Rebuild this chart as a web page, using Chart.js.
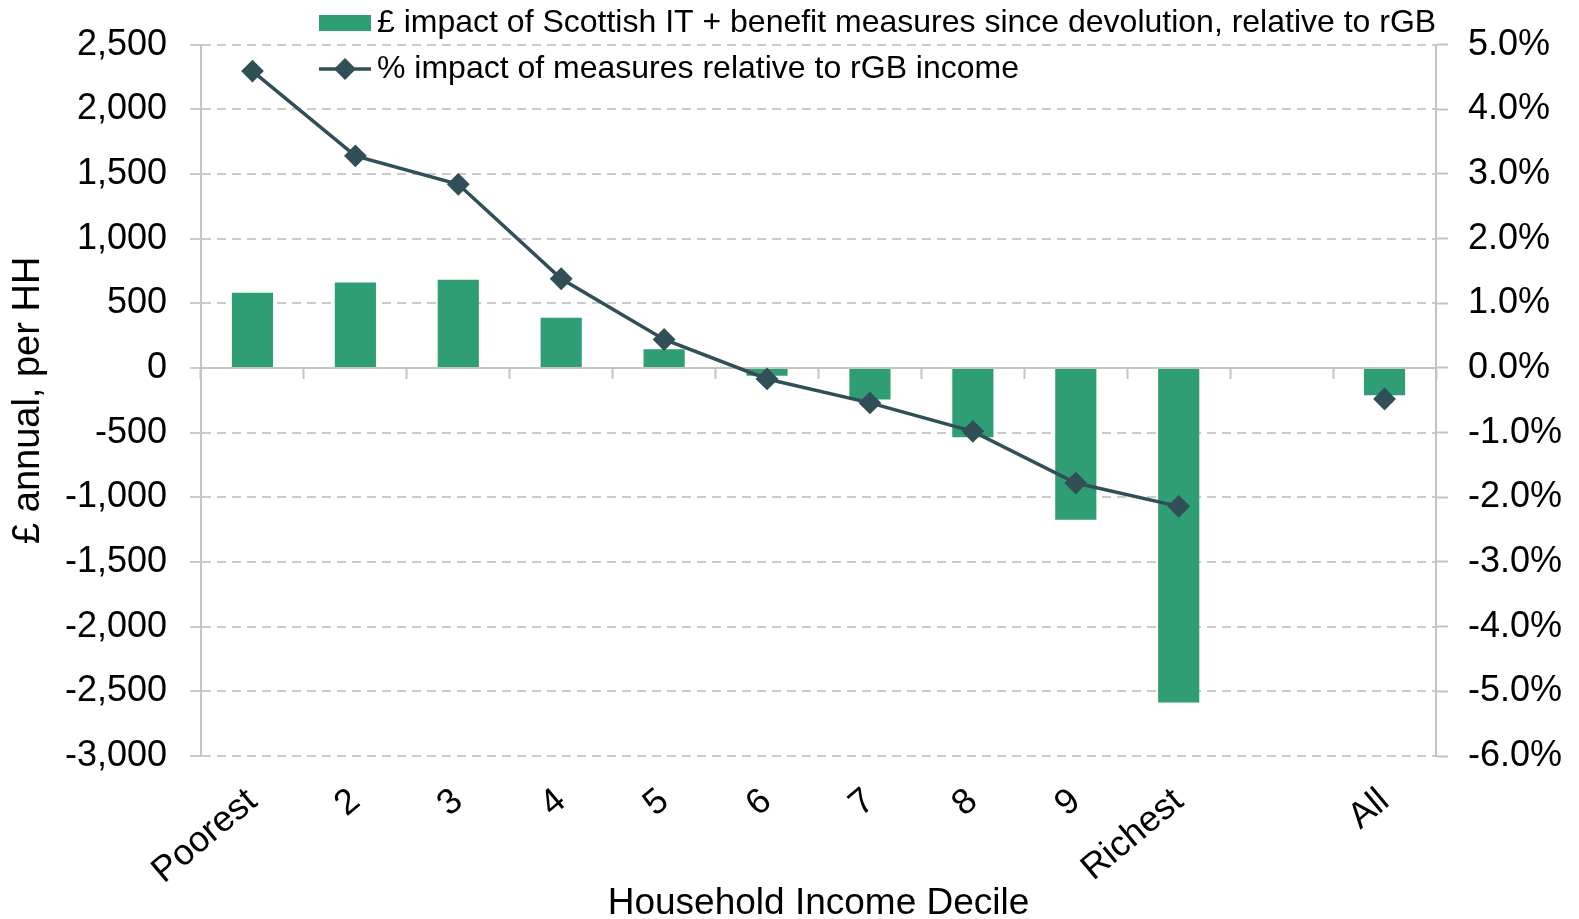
<!DOCTYPE html>
<html>
<head>
<meta charset="utf-8">
<script src="https://cdn.jsdelivr.net/npm/chart.js@4.4.1/dist/chart.umd.min.js"></script>
<style>
  html, body { margin: 0; padding: 0; background: #ffffff; }
  #wrap { position: relative; width: 1579px; height: 919px; }
</style>
</head>
<body>
<div id="wrap"><canvas id="c"></canvas></div>
<script>
// ---- data ----
const categories = ['Poorest', '2', '3', '4', '5', '6', '7', '8', '9', 'Richest', '', 'All'];
const poundImpact = [581, 660, 682, 388, 144, -61, -244, -536, -1174, -2586, null, -210];
const percentImpact = [4.59, 3.28, 2.84, 1.38, 0.44, -0.17, -0.54, -0.98, -1.78, -2.14, null, -0.48];
const seriesNames = [
  '£ impact of Scottish IT + benefit measures since devolution, relative to rGB',
  '% impact of measures relative to rGB income'
];
const leftTicks = [-3000, -2500, -2000, -1500, -1000, -500, 0, 500, 1000, 1500, 2000, 2500];
const rightTicks = [-6, -5, -4, -3, -2, -1, 0, 1, 2, 3, 4, 5];
const axisTitles = { x: 'Household Income Decile', y: '£ annual, per HH' };

// ---- styles ----
const FONT = "'Liberation Sans', Arial, Helvetica, sans-serif";
const BAR_COLOR = '#2f9e74';
const LINE_COLOR = '#304f57';
const GRID_COLOR = '#cbcbcb';
const AXIS_COLOR = '#c4c4c4';

const legendPlugin = {
  id: 'customLegend',
  afterDraw(chart, args, opts) {
    const ctx = chart.ctx;
    const ds = chart.data.datasets;
    ctx.save();
    ctx.font = opts.fontSize + 'px ' + FONT;
    ctx.textBaseline = 'middle';
    ctx.textAlign = 'left';
    // item 1: bar swatch
    ctx.fillStyle = ds[0].backgroundColor;
    ctx.fillRect(opts.x, opts.y1 - 8, opts.symbolWidth, 16);
    ctx.fillStyle = '#000';
    ctx.fillText(ds[0].label, opts.x + opts.symbolWidth + opts.gap, opts.y1);
    // item 2: line with diamond
    ctx.strokeStyle = ds[1].borderColor;
    ctx.lineWidth = ds[1].borderWidth;
    ctx.beginPath();
    ctx.moveTo(opts.x, opts.y2);
    ctx.lineTo(opts.x + opts.symbolWidth, opts.y2);
    ctx.stroke();
    const cx = opts.x + opts.symbolWidth / 2, r = 11;
    ctx.fillStyle = ds[1].pointBackgroundColor;
    ctx.beginPath();
    ctx.moveTo(cx - r, opts.y2);
    ctx.lineTo(cx, opts.y2 - r);
    ctx.lineTo(cx + r, opts.y2);
    ctx.lineTo(cx, opts.y2 + r);
    ctx.closePath();
    ctx.fill();
    ctx.fillStyle = '#000';
    ctx.fillText(ds[1].label, opts.x + opts.symbolWidth + opts.gap, opts.y2);
    ctx.restore();
  }
};

const fmtThousands = v => {
  const s = Math.abs(v).toString().replace(/\B(?=(\d{3})+(?!\d))/g, ',');
  return (v < 0 ? '-' : '') + s;
};

new Chart(document.getElementById('c'), {
  type: 'bar',
  data: {
    labels: categories,
    datasets: [
      {
        type: 'bar',
        label: seriesNames[0],
        data: poundImpact,
        backgroundColor: BAR_COLOR,
        borderWidth: 0,
        barPercentage: 0.4,
        categoryPercentage: 1.0,
        xAxisID: 'x',
        yAxisID: 'y',
        order: 2
      },
      {
        type: 'line',
        label: seriesNames[1],
        data: percentImpact,
        borderColor: LINE_COLOR,
        backgroundColor: LINE_COLOR,
        borderWidth: 3.5,
        pointStyle: 'rectRot',
        pointRadius: 10,
        pointBorderWidth: 2,
        pointBackgroundColor: LINE_COLOR,
        pointBorderColor: LINE_COLOR,
        spanGaps: false,
        tension: 0,
        xAxisID: 'x',
        yAxisID: 'y1',
        order: 1
      }
    ]
  },
  options: {
    responsive: true,
    maintainAspectRatio: false,
    animation: false,
    events: [],
    layout: { padding: { top: 42, left: 0, right: 0, bottom: 0 } },
    plugins: {
      legend: { display: false },
      tooltip: { enabled: false },
      customLegend: { x: 319, y1: 23, y2: 69, symbolWidth: 52, gap: 6, fontSize: 32 }
    },
    scales: {
      x: {
        type: 'category',
        position: 'bottom',
        offset: true,
        grid: { display: false, drawTicks: false },
        border: { display: false },
        ticks: {
          color: '#000',
          font: { family: FONT, size: 36 },
          minRotation: 40,
          maxRotation: 40,
          autoSkip: false,
          padding: 24
        },
        title: {
          display: true,
          text: axisTitles.x,
          color: '#000',
          font: { family: FONT, size: 37 },
          padding: { top: 0, bottom: -7 }
        },
        afterFit(scale) { scale.height = 163; }
      },
      xz: {
        type: 'category',
        position: { y: 0 },
        offset: true,
        grid: {
          display: true,
          offset: true,
          drawOnChartArea: false,
          drawTicks: true,
          tickLength: 10,
          tickWidth: 2,
          tickColor: AXIS_COLOR
        },
        border: { display: true, color: AXIS_COLOR, width: 2 },
        ticks: { display: false }
      },
      y: {
        type: 'linear',
        position: 'left',
        min: -3000,
        max: 2500,
        afterBuildTicks(scale) { scale.ticks = leftTicks.map(v => ({ value: v })); },
        grid: {
          color: GRID_COLOR,
          lineWidth: 2,
          drawTicks: true,
          tickLength: 11,
          tickColor: GRID_COLOR,
          tickWidth: 2
        },
        border: { display: true, color: AXIS_COLOR, width: 2, dash: [9, 6] },
        ticks: {
          color: '#000',
          font: { family: FONT, size: 36 },
          padding: 23,
          callback: v => fmtThousands(v)
        },
        title: {
          display: true,
          text: axisTitles.y,
          color: '#000',
          font: { family: FONT, size: 38 },
          padding: { top: 6, bottom: 0 }
        },
        afterFit(scale) { scale.width = 201; }
      },
      y1: {
        type: 'linear',
        position: 'right',
        min: -6,
        max: 5,
        afterBuildTicks(scale) { scale.ticks = rightTicks.map(v => ({ value: v })); },
        grid: {
          drawOnChartArea: false,
          drawTicks: true,
          tickLength: 12,
          tickColor: AXIS_COLOR,
          tickWidth: 2
        },
        border: { display: true, color: AXIS_COLOR, width: 2 },
        ticks: {
          color: '#000',
          font: { family: FONT, size: 36 },
          padding: 20,
          callback: v => v.toFixed(1) + '%'
        },
        afterFit(scale) { scale.width = 143; }
      }
    }
  },
  plugins: [legendPlugin]
});
</script>
</body>
</html>
